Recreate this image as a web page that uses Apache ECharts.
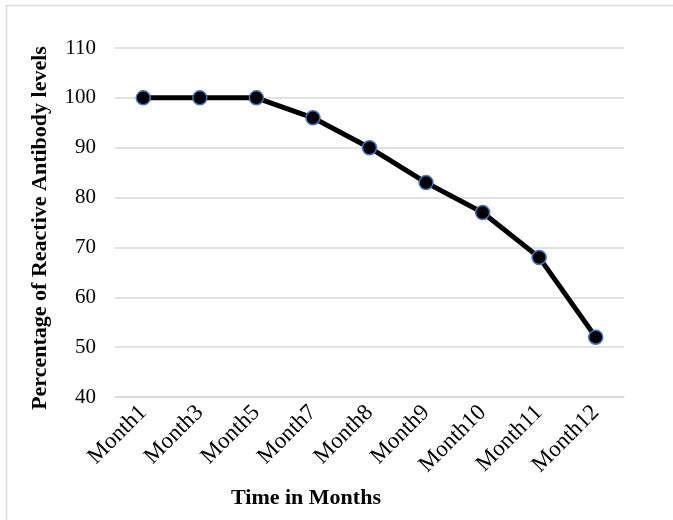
<!DOCTYPE html>
<html><head><meta charset="utf-8">
<script src="https://cdn.jsdelivr.net/npm/echarts@6/dist/echarts.min.js"></script>
<style>html,body{margin:0;padding:0;background:#fff}#c{width:673px;height:520px}</style>
</head><body><div id="c"></div>
<script>
const categories = ['Month1','Month3','Month5','Month7','Month8','Month9','Month10','Month11','Month12'];
const values = [100, 100, 100, 96, 90, 83, 77, 68, 52];
const yTitle = 'Percentage of Reactive Antibody levels';
const xTitle = 'Time in Months';
const FONT = 'Liberation Serif';
const chart = echarts.init(document.getElementById('c'), null, {renderer:'canvas'});
chart.setOption({
  animation:false,
  backgroundColor:'#fff',
  grid:{left:115, right:49, top:48, bottom:123, containLabel:false},
  xAxis:{type:'category', data:categories, boundaryGap:true,
    axisLine:{show:true, lineStyle:{color:'#d9d9d9', width:1.5}}, axisTick:{show:false},
    axisLabel:{rotate:45, interval:0, margin:12, color:'#000', fontFamily:FONT, fontSize:23}},
  yAxis:{type:'value', min:40, max:110, interval:10,
    axisLine:{show:false}, axisTick:{show:false},
    splitLine:{lineStyle:{color:'#d9d9d9', width:1.5}},
    axisLabel:{margin:19, color:'#000', fontFamily:FONT, fontSize:21}},
  graphic:[
    {type:'rect', shape:{x:6.5,y:5.5,width:700,height:600}, style:{fill:'none', stroke:'#d9d9d9', lineWidth:1.5}, silent:true, z:-1},
    {type:'text', x:306, y:498, style:{text:xTitle, font:'bold 22px "'+FONT+'"', fill:'#000', textAlign:'center', textVerticalAlign:'middle'}},
    {type:'text', x:40, y:228, rotation:Math.PI/2, style:{text:yTitle, font:'bold 22px "'+FONT+'"', fill:'#000', textAlign:'center', textVerticalAlign:'middle'}}
  ],
  series:[{type:'line', data:values, symbol:'circle', symbolSize:14,
    lineStyle:{color:'#000', width:5},
    itemStyle:{color:'#000', borderColor:'#4472c4', borderWidth:1.5}}]
});
</script></body></html>
